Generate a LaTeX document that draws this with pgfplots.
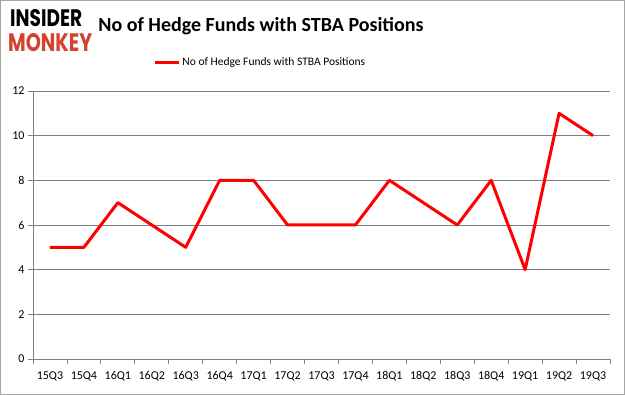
\documentclass[border=0pt]{standalone}
\usepackage{pgfplots}
\pgfplotsset{compat=1.18}
\usepackage{fontspec}
\setmainfont{Carlito}
\newfontfamily\logofont{Poppins}
\definecolor{monkey}{RGB}{212,66,48}
\begin{document}
\begin{tikzpicture}
\draw[gray!70, line width=1pt] (0.5pt,0.5pt) rectangle (624.5pt,394.5pt);
\node[anchor=west, inner sep=0pt] at (10pt,376.5pt) {\resizebox{72pt}{17pt}{\logofont\bfseries INSIDER}};
\node[anchor=west, inner sep=0pt, text=monkey] at (8pt,352pt) {\resizebox{84pt}{18pt}{\logofont\bfseries MONKEY}};
\node[anchor=center, inner sep=0pt] at (261pt,369pt) {\fontsize{20}{24}\selectfont\bfseries No of Hedge Funds with STBA Positions};
\begin{axis}[at={(33pt,36pt)}, anchor=south west, scale only axis,
  width=577pt, height=268pt,
  xmin=-0.5, xmax=16.5, ymin=0, ymax=12,
  ytick={0,2,...,12},
  xtick={0,...,16},
  xticklabels={15Q3,15Q4,16Q1,16Q2,16Q3,16Q4,17Q1,17Q2,17Q3,17Q4,18Q1,18Q2,18Q3,18Q4,19Q1,19Q2,19Q3},
  minor xtick={-0.5,0.5,...,16.5},
  axis lines=left,
  axis line style={-, gray, line width=0.8pt},
  ymajorgrids, grid style={gray, line width=0.8pt},
  tick align=outside, major tick length=5pt, minor tick length=5pt,
  every major x tick/.append style={draw=none},
  every minor x tick/.append style={gray, line width=0.8pt},
  every major y tick/.append style={gray, line width=0.8pt},
  /pgf/number format/assume math mode=true,
  ticklabel style={font=\fontsize{12}{13}\selectfont, text=black},
  xticklabel style={yshift=-4pt},
  legend style={at={(0.394,1.108)}, anchor=center, draw=none, fill=none,
    font=\fontsize{11.5}{13}\selectfont, inner sep=1pt},
  legend image code/.code={\draw[red, line width=3pt] (0pt,0pt)--(24pt,0pt);},
  clip=false,
]
\addplot[red, line width=3pt, line join=round] coordinates {
(0,5) (1,5) (2,7) (3,6) (4,5) (5,8) (6,8) (7,6) (8,6) (9,6) (10,8) (11,7) (12,6) (13,8) (14,4) (15,11) (16,10)};
\addlegendentry{No of Hedge Funds with STBA Positions}
\end{axis}
\end{tikzpicture}
\end{document}
